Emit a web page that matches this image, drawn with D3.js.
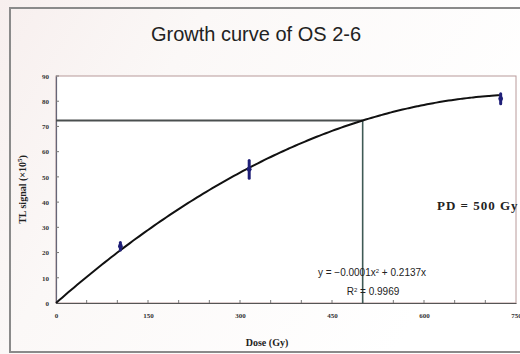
<!DOCTYPE html>
<html>
<head>
<meta charset="utf-8">
<script src="https://cdn.jsdelivr.net/npm/d3@7"></script>
<style>
  html, body { margin: 0; padding: 0; background: #fff; }
  svg { display: block; }
</style>
</head>
<body>
<svg id="chart" width="520" height="354"></svg>
<script>
// Measured doses (Gy) and TL signals (x10^5) with their error bars
const doses   = [105, 315, 725];
const signals = [22.5, 53, 81];
const errors  = [1.5, 3.5, 2];

// Second-order trend through the origin: y = a*x^2 + b*x
const trendCoef = [-0.000138, 0.2137];
const rSquared  = 0.9969;

// Palaeodose
const paleoDose = 500;

const xTicks = [0, 150, 300, 450, 600, 750];
const yTicks = [0, 10, 20, 30, 40, 50, 60, 70, 80, 90];

const svg = d3.select("#chart");
const W = 520, H = 354;
const plot = { left: 56, top: 76, right: 516, bottom: 303 };

// faint background wash on the left
const defs = svg.append("defs");
const grad = defs.append("linearGradient").attr("id", "wash")
  .attr("x1", "0").attr("x2", "1").attr("y1", "0").attr("y2", "0.4");
grad.append("stop").attr("offset", "0").attr("stop-color", "#f7efee");
grad.append("stop").attr("offset", "0.35").attr("stop-color", "#fbf8f7");
grad.append("stop").attr("offset", "1").attr("stop-color", "#ffffff");
svg.append("rect").attr("width", W).attr("height", H).attr("fill", "url(#wash)");

// chart frame
svg.append("rect")
  .attr("x", 10).attr("y", 8).attr("width", W).attr("height", 344)
  .attr("fill", "none").attr("stroke", "#8a8a8a").attr("stroke-width", 2);

const x = d3.scaleLinear().domain([0, 750]).range([plot.left, plot.right]);
const y = d3.scaleLinear().domain([0, 90]).range([plot.bottom, plot.top]);

// plot area border
svg.append("rect")
  .attr("x", plot.left).attr("y", plot.top)
  .attr("width", plot.right - plot.left).attr("height", plot.bottom - plot.top)
  .attr("fill", "#fff").attr("stroke", "#b89a9a").attr("stroke-width", 1);

// axes: inward minor ticks every 50 Gy / 10 units
const tickFont = "bold 7px 'Liberation Serif', 'DejaVu Serif', serif";
const xAxis = d3.axisBottom(x).tickValues(xTicks).tickSize(0).tickPadding(10)
  .tickFormat(d3.format("d"));
const gx = svg.append("g").attr("transform", `translate(0,${plot.bottom})`).call(xAxis);
gx.select(".domain").attr("stroke", "#555").attr("stroke-width", 1.2);
gx.selectAll("text").style("font", tickFont).attr("fill", "#333");
gx.selectAll(".minor").data(d3.range(50, 750, 50)).enter().append("line")
  .attr("class", "minor")
  .attr("x1", d => x(d)).attr("x2", d => x(d)).attr("y1", 0).attr("y2", -3)
  .attr("stroke", "#777");

const yAxis = d3.axisLeft(y).tickValues(yTicks).tickSize(0).tickPadding(7)
  .tickFormat(d3.format("d"));
const gy = svg.append("g").attr("transform", `translate(${plot.left},0)`).call(yAxis);
gy.select(".domain").attr("stroke", "#667").attr("stroke-width", 1.2);
gy.selectAll("text").style("font", tickFont).attr("fill", "#333");
gy.selectAll(".minor").data(yTicks.slice(1)).enter().append("line")
  .attr("class", "minor")
  .attr("x1", 0).attr("x2", 3).attr("y1", d => y(d)).attr("y2", d => y(d))
  .attr("stroke", "#777");

// reading lines: natural signal across, palaeodose down
const f = d => trendCoef[0] * d * d + trendCoef[1] * d;
svg.append("line")
  .attr("x1", x(0)).attr("x2", x(paleoDose))
  .attr("y1", y(f(paleoDose))).attr("y2", y(f(paleoDose)))
  .attr("stroke", "#4a4f4f").attr("stroke-width", 1.8);
svg.append("line")
  .attr("x1", x(paleoDose)).attr("x2", x(paleoDose))
  .attr("y1", y(f(paleoDose))).attr("y2", y(0))
  .attr("stroke", "#3f5a55").attr("stroke-width", 1.6);

// growth curve
const curvePts = d3.range(0, d3.max(doses) + 1, 5).map(d => [d, f(d)]);
svg.append("path")
  .datum(curvePts)
  .attr("fill", "none").attr("stroke", "#111").attr("stroke-width", 2)
  .attr("d", d3.line().x(d => x(d[0])).y(d => y(d[1])).curve(d3.curveMonotoneX));

// data points with error bars
const pts = doses.map((d, i) => ({ d, s: signals[i], e: errors[i] }));
svg.selectAll(".err").data(pts).enter().append("line")
  .attr("class", "err")
  .attr("x1", p => x(p.d)).attr("x2", p => x(p.d))
  .attr("y1", p => y(p.s - p.e)).attr("y2", p => y(p.s + p.e))
  .attr("stroke", "#1f1f78").attr("stroke-width", 3).attr("stroke-linecap", "round");
svg.selectAll(".pt").data(pts).enter().append("circle")
  .attr("class", "pt")
  .attr("cx", p => x(p.d)).attr("cy", p => y(p.s)).attr("r", 2.4)
  .attr("fill", "#1f1f78");

// title
svg.append("text")
  .attr("x", 256).attr("y", 41).attr("text-anchor", "middle")
  .style("font", "20px 'Liberation Sans', Arial, sans-serif").attr("fill", "#222")
  .text("Growth curve of OS 2-6");

// axis titles
const titleFont = "bold 10px 'Liberation Serif', 'DejaVu Serif', serif";
svg.append("text")
  .attr("x", 267).attr("y", 346).attr("text-anchor", "middle")
  .style("font", titleFont).attr("fill", "#222")
  .text("Dose (Gy)");
const yt = svg.append("text")
  .attr("transform", `translate(26,${(plot.top + plot.bottom) / 2}) rotate(-90)`)
  .attr("text-anchor", "middle")
  .style("font", titleFont).attr("fill", "#222");
yt.append("tspan").text("TL signal (\u00d710");
yt.append("tspan").attr("dy", -4).style("font-size", "7px").text("5");
yt.append("tspan").attr("dy", 4).text(")");

// trendline equation
const fmt4 = d3.format(".4f");
const eqFont = "10px 'Liberation Sans', Arial, sans-serif";
const eq = svg.append("text")
  .attr("x", 372).attr("y", 276).attr("text-anchor", "middle")
  .style("font", eqFont).attr("fill", "#222");
eq.append("tspan").text(`y = ${fmt4(trendCoef[0])}x`);
eq.append("tspan").attr("dy", -3).style("font-size", "6px").text("2");
eq.append("tspan").attr("dy", 3).text(` + ${fmt4(trendCoef[1])}x`);
const r2 = svg.append("text")
  .attr("x", 373).attr("y", 295).attr("text-anchor", "middle")
  .style("font", eqFont).attr("fill", "#222");
r2.append("tspan").text("R");
r2.append("tspan").attr("dy", -3).style("font-size", "6px").text("2");
r2.append("tspan").attr("dy", 3).text(` = ${fmt4(rSquared)}`);

// palaeodose annotation
svg.append("text")
  .attr("x", 437).attr("y", 210)
  .style("font", "bold 13px 'Liberation Serif', 'DejaVu Serif', serif")
  .attr("letter-spacing", 1).attr("fill", "#222")
  .text(`PD = ${paleoDose} Gy`);
</script>
</body>
</html>
